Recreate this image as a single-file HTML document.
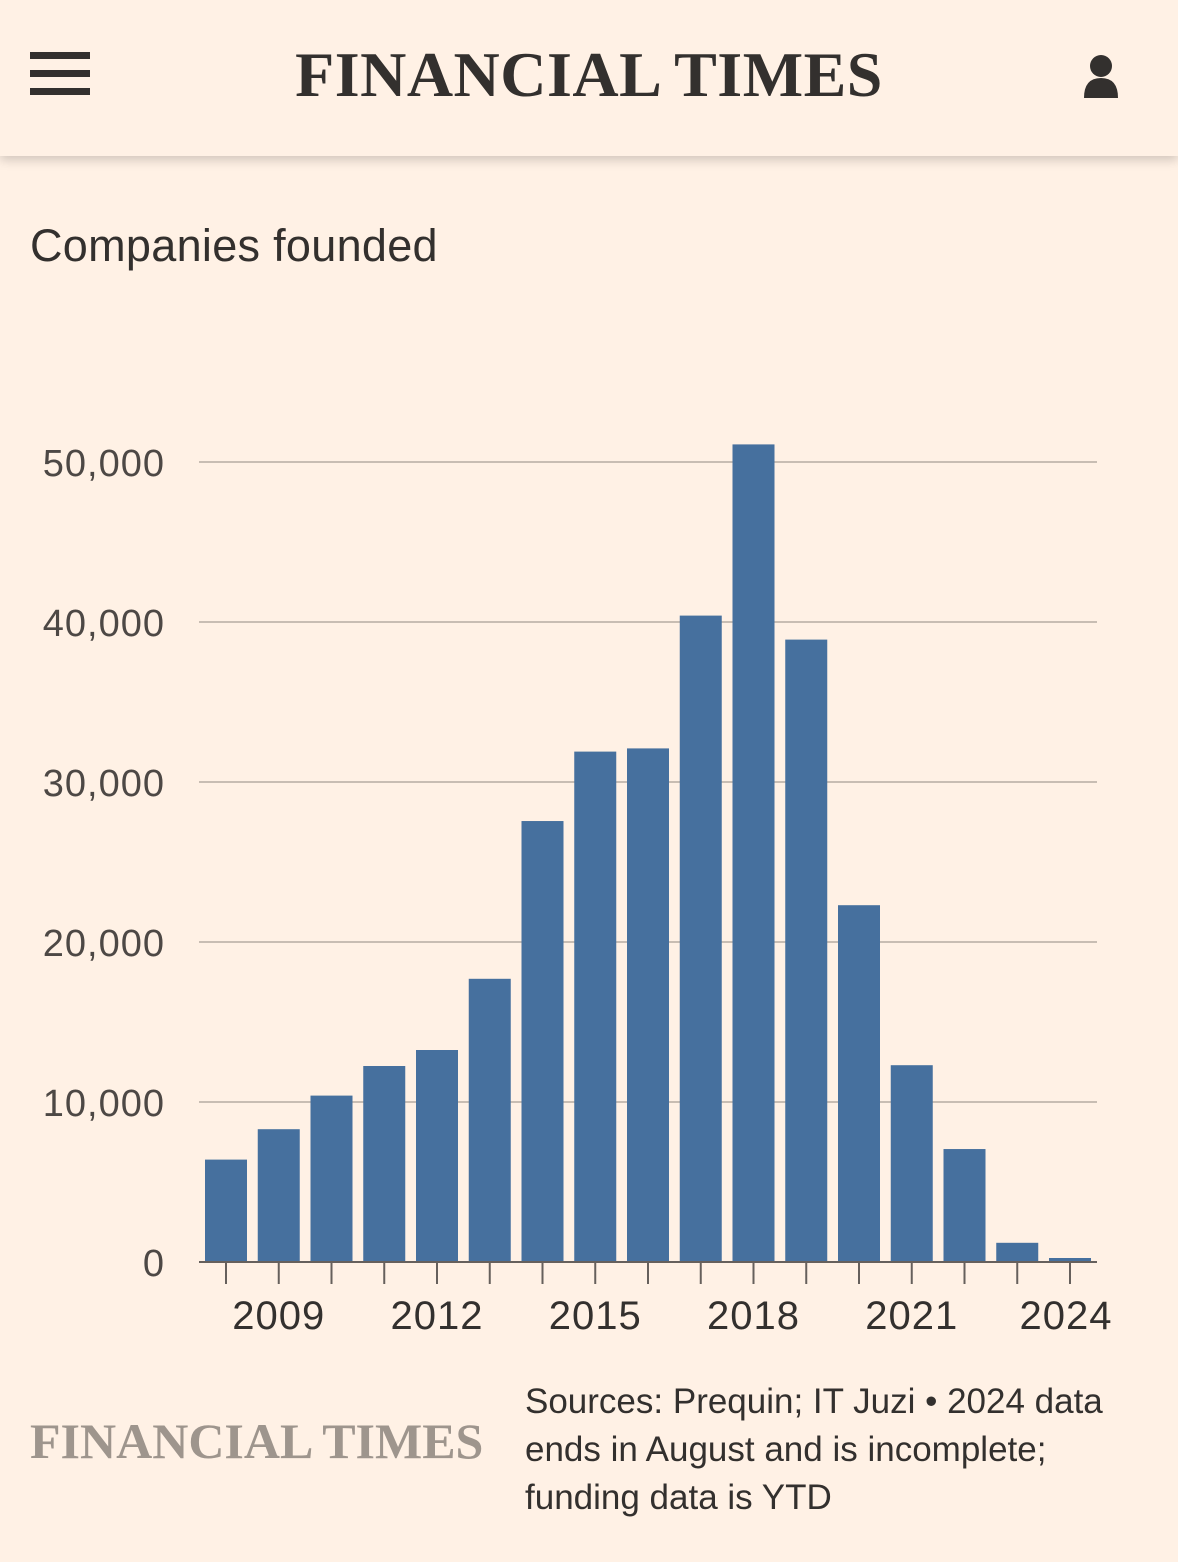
<!DOCTYPE html>
<html><head><meta charset="utf-8"><style>
body{margin:0;width:1178px;height:1562px;background:#fff1e5;font-family:"Liberation Sans",sans-serif;overflow:hidden;position:relative;color:#33302e}
.hdr{position:absolute;left:0;top:0;width:1178px;height:156px;background:#fff1e5;box-shadow:0 4px 10px rgba(0,0,0,0.18)}
.logo{position:absolute;left:0;width:1178px;top:38px;text-align:center;font-family:"Liberation Serif",serif;font-weight:bold;font-size:64px;letter-spacing:0.5px;color:#33302e}
.menu span{position:absolute;left:30px;width:60px;height:7px;background:#33302e}
.title{position:absolute;left:30px;top:220px;font-size:45px;letter-spacing:0.3px;color:#33302e}
.foot{position:absolute;left:30px;top:1412px;font-family:"Liberation Serif",serif;font-weight:bold;font-size:50px;color:#9e958d}
.src{position:absolute;left:525px;top:1378px;font-size:35px;line-height:48px;color:#33302e}
</style></head><body>
<div class="hdr">
<div class="menu"><span style="top:52px"></span><span style="top:70px"></span><span style="top:88px"></span></div>
<div class="logo">FINANCIAL TIMES</div>
<svg style="position:absolute;left:1082px;top:54px" width="38" height="46"><circle cx="19" cy="12" r="11" fill="#33302e"/><path d="M2 44 Q2 24 19 24 Q36 24 36 44 Z" fill="#33302e"/></svg>
</div>
<div class="title">Companies founded</div>
<svg id="chart" style="position:absolute;left:0;top:0" width="1178" height="1370"></svg>
<div class="foot">FINANCIAL TIMES</div>
<div class="src">Sources: Prequin; IT Juzi • 2024 data<br>ends in August and is incomplete;<br>funding data is YTD</div>
<script>
const years=[2008,2009,2010,2011,2012,2013,2014,2015,2016,2017,2018,2019,2020,2021,2022,2023,2024];
const values=[6400,8300,10400,12250,13250,17700,27560,31900,32100,40400,51100,38900,22300,12300,7060,1200,250];
const yTicks=[0,10000,20000,30000,40000,50000];
const xLabels=[2009,2012,2015,2018,2021,2024];
const svg=document.getElementById('chart');const NS='http://www.w3.org/2000/svg';
const y=v=>1262-v*0.016;
const x=yr=>226+(yr-2008)*52.75;
function mk(t,a){const e=document.createElementNS(NS,t);for(const k in a)e.setAttribute(k,a[k]);svg.appendChild(e);return e;}
yTicks.forEach(v=>{
 if(v>0){const l=mk('line',{x1:199,x2:1097,y1:y(v),y2:y(v),stroke:'#c8bdb3','stroke-width':2});
 
 }
 const t=mk('text',{x:165,y:y(v)+14,'text-anchor':'end','font-size':38,'letter-spacing':1,fill:'#4d4845','font-family':'Liberation Sans, sans-serif'});t.textContent=v.toLocaleString('en-US');
 
 
});
years.forEach((yr,i)=>{
 const r=mk('rect',{x:x(yr)-21,y:y(values[i]),width:42,height:1262-y(values[i]),fill:'#46709e'});
 
 
 const tk=mk('line',{x1:x(yr),x2:x(yr),y1:1262,y2:1284,stroke:'#66605c','stroke-width':2});
 
 
});
const ax=mk('line',{x1:199,x2:1097,y1:1262,y2:1262,stroke:'#66605c','stroke-width':2});


xLabels.forEach(yr=>{
 const t=mk('text',{x:Math.min(x(yr),1066),y:1329,'text-anchor':'middle','font-size':40,'letter-spacing':1,fill:'#33302e','font-family':'Liberation Sans, sans-serif'});t.textContent=yr;
 
 
});
</script>
</body></html>
